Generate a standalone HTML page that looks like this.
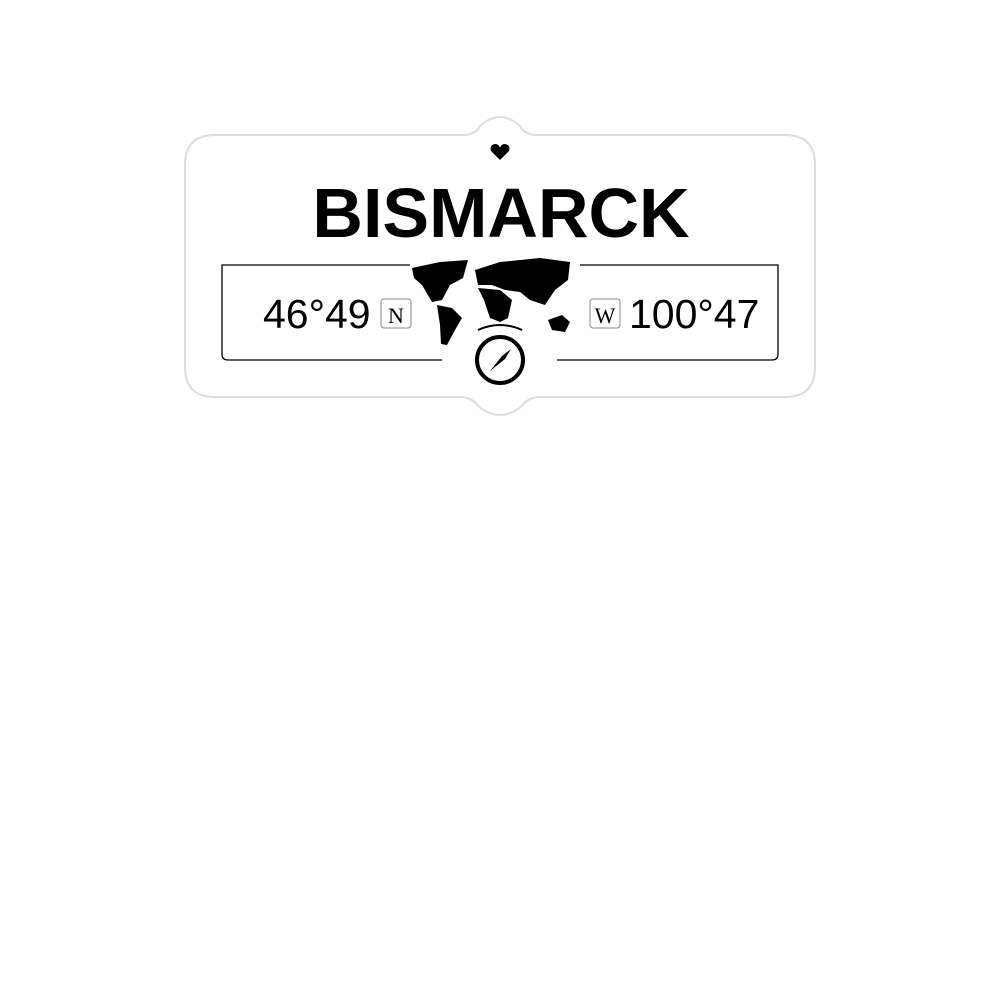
<!DOCTYPE html><html><head><style>body{margin:0;width:1000px;height:1000px;background:#fff;overflow:hidden;font-family:"Liberation Sans",sans-serif}</style></head><body>
<svg width="1000" height="1000" viewBox="0 0 1000 1000" style="position:absolute;left:0;top:0">
<path d="M215,135 H462 Q475,135 480,126 Q500,108 520,126 Q525,135 538,135 H785 Q815,135 815,165 V367 Q815,397 785,397 H540 Q528,397 522,406 Q500,424 478,406 Q472,397 460,397 H215 Q185,397 185,367 V165 Q185,135 215,135 Z" fill="#fff" stroke="#ddd" stroke-width="2"/>
<path d="M500,160 L491,151 Q489,145 495,144 Q499,144 500,148 Q501,144 505,144 Q511,145 509,151 Z" fill="#000"/>
<text x="501" y="237" font-size="70" font-weight="bold" text-anchor="middle" fill="#000">BISMARCK</text>
<path d="M410,265 H222 V354 Q222,360 228,360 H442 M557,360 H772 Q778,360 778,354 V265 H580" fill="none" stroke="#000" stroke-width="1.3"/>
<text x="263" y="328" font-size="41" fill="#000">46°49</text>
<rect x="381" y="299" width="30" height="29" rx="3" fill="#fff" stroke="#888"/>
<text x="396" y="323" font-size="22" font-family="Liberation Serif" text-anchor="middle">N</text>
<rect x="590" y="299" width="30" height="29" rx="3" fill="#fff" stroke="#888"/>
<text x="605" y="323" font-size="22" font-family="Liberation Serif" text-anchor="middle">W</text>
<text x="629" y="328" font-size="41" fill="#000">100°47</text>
<g fill="#000">
<path d="M412,268 L440,262 L468,260 L463,278 L450,285 L442,300 L432,302 L422,285 L414,278 Z"/>
<path d="M437,305 L452,308 L462,318 L455,330 L447,345 L441,344 L440,325 Z"/>
<path d="M475,270 L500,262 L540,258 L570,262 L568,280 L555,290 L545,305 L530,300 L520,292 L505,290 L492,285 L478,285 Z"/>
<path d="M478,288 L500,290 L512,300 L508,318 L500,322 L490,318 L484,300 Z"/>
<path d="M548,320 L562,315 L570,322 L565,332 L552,330 Z"/>
</g>
<path d="M478,330 Q500,320 522,330" fill="none" stroke="#000" stroke-width="2"/>
<circle cx="500" cy="360" r="23" fill="#fff" stroke="#000" stroke-width="4"/>
<path d="M490,371 L502,356 L511,349 L505,359 Z" fill="#000"/>
</svg>
</body></html>
